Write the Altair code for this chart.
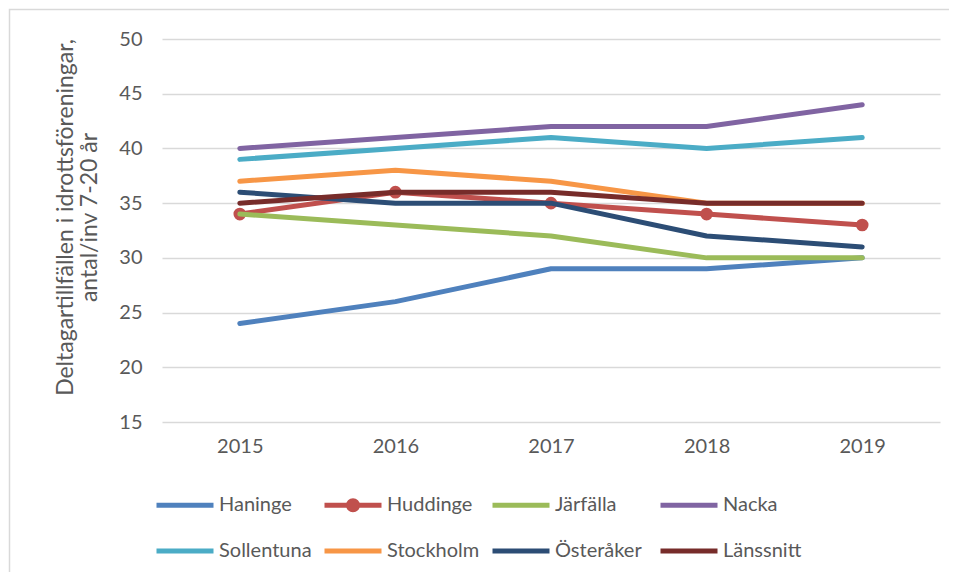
import altair as alt
import pandas as pd

years = ["2015", "2016", "2017", "2018", "2019"]
kommuner = ["Haninge", "Huddinge", "Järfälla", "Nacka",
            "Sollentuna", "Stockholm", "Österåker", "Länssnitt"]
haninge = [24, 26, 29, 29, 30]
huddinge = [34, 36, 35, 34, 33]
jarfalla = [34, 33, 32, 30, 30]
nacka = [40, 41, 42, 42, 44]
sollentuna = [39, 40, 41, 40, 41]
stockholm = [37, 38, 37, 35, 35]
osteraker = [36, 35, 35, 32, 31]
lanssnitt = [35, 36, 36, 35, 35]
colors = ["#4F81BD", "#C0504D", "#9BBB59", "#8064A2",
          "#4BACC6", "#F79646", "#2C4D75", "#772C2A"]

values = [haninge, huddinge, jarfalla, nacka, sollentuna, stockholm, osteraker, lanssnitt]
rows = []
for name, vals in zip(kommuner, values):
    for yr, v in zip(years, vals):
        rows.append({"kommun": name, "year": yr, "value": v})
df = pd.DataFrame(rows)

FONT = "Lato"
GRAY = "#595959"

line_path = "M-1,0L1,0M0,-0.158L0,-0.158M0,0.158L0,0.158"
marker_path = ("M-1,0L1,0"
               "M-0.158,0A0.158,0.158,0,1,0,0.158,0A0.158,0.158,0,1,0,-0.158,0Z"
               "M-0.07,0A0.07,0.07,0,1,0,0.07,0A0.07,0.07,0,1,0,-0.07,0Z")
shape_range = [marker_path if k == "Huddinge" else line_path for k in kommuner]

x_enc = alt.X("year:O", sort=years,
              scale=alt.Scale(type="point", padding=0.5),
              axis=alt.Axis(title=None, labelAngle=0, domain=False, ticks=False, grid=False,
                            labelFont=FONT, labelFontSize=20, labelColor=GRAY,
                            labelPadding=14))
y_enc = alt.Y("value:Q",
              scale=alt.Scale(domain=[15, 50], nice=False, zero=False),
              axis=alt.Axis(values=[15, 20, 25, 30, 35, 40, 45, 50],
                            title=["Deltagartillfällen i idrottsföreningar,", "antal/inv 7-20 år"],
                            titleFont=FONT, titleFontSize=23, titleFontWeight="normal",
                            titleColor=GRAY, titleLineHeight=24,
                            titleX=-90, titleY=178, titleAlign="center",
                            titleBaseline="alphabetic", titleAngle=270,
                            domain=False, ticks=False, gridColor="#D9D9D9", gridWidth=1.5,
                            labelFont=FONT, labelFontSize=20, labelColor=GRAY,
                            labelPadding=20))
legend = alt.Legend(orient="none", legendX=-8, legendY=435, columns=4,
                    direction="horizontal", title=None,
                    symbolSize=3249, symbolStrokeWidth=5,
                    labelFont=FONT, labelFontSize=20, labelColor=GRAY,
                    labelOffset=3, gridAlign="all", columnPadding=2, rowPadding=-19)
color_enc = alt.Color("kommun:N", scale=alt.Scale(domain=kommuner, range=colors), legend=legend)
shape_enc = alt.Shape("kommun:N", scale=alt.Scale(domain=kommuner, range=shape_range), legend=legend)

base = alt.Chart(df)
layers = []
for name in kommuner:
    layers.append(
        base.transform_filter(alt.datum.kommun == name)
        .mark_line(strokeWidth=5, strokeCap="round", strokeJoin="round")
        .encode(x=x_enc, y=y_enc, color=color_enc)
    )
    if name == "Huddinge":
        layers.append(
            base.transform_filter(alt.datum.kommun == name)
            .mark_point(filled=True, shape="circle", size=160, opacity=1)
            .encode(x=x_enc, y=y_enc, color=color_enc)
        )

legend_layer = (base.transform_filter("false")
                .mark_point(filled=False, strokeWidth=5)
                .encode(x=x_enc, y=y_enc, color=color_enc, shape=shape_enc))

frame = (alt.Chart(pd.DataFrame({"a": [0]}))
         .mark_rect(fill=None, stroke="#D9D9D9", strokeWidth=1.5)
         .encode(x=alt.value(-152.5), x2=alt.value(805),
                 y=alt.value(-29.5), y2=alt.value(560)))

chart = alt.layer(frame, *layers, legend_layer).properties(
    width=778, height=383,
    autosize=alt.AutoSizeParams(type="none"),
    padding={"left": 154, "top": 31, "right": 9, "bottom": 150},
    background="white",
).configure_view(stroke=None)

chart.save("out.html", embed_options={"renderer": "svg", "actions": False})
